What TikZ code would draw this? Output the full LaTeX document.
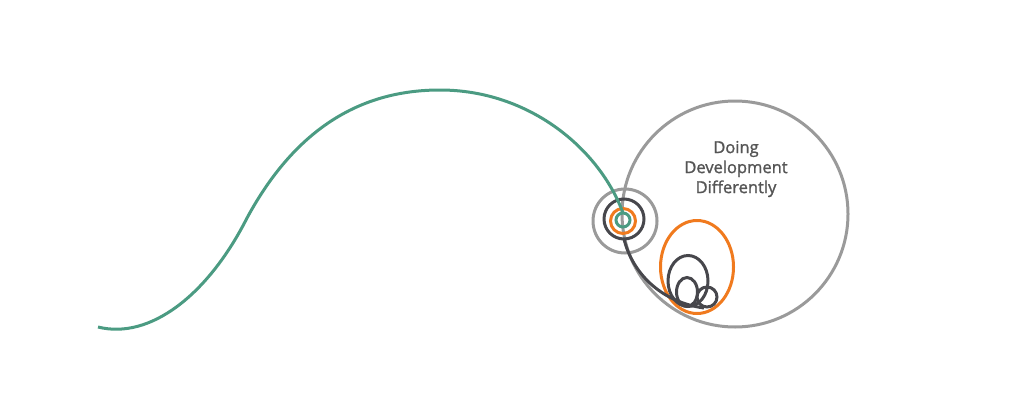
\documentclass[tikz,border=0pt]{standalone}
\usepackage{fontspec}
\setmainfont{Open Sans}
\usepackage{tikz}
\usetikzlibrary{shapes.geometric,positioning}
\definecolor{ddgreen}{HTML}{4B9B82}
\definecolor{ddorange}{HTML}{F07A1E}
\definecolor{ddgray}{HTML}{9A9A9A}
\definecolor{dddark}{HTML}{47474C}
\definecolor{ddtext}{HTML}{555555}
\tikzset{
	loop diagram/.style={
		x=1pt, y=-1pt,
		line width=3pt,
		every node/.style={inner sep=0pt, outer sep=0pt},
		},
	ring/.style={draw=#1, circle},
	oval/.style={draw=#1, ellipse},
	title/.style={align=center, text=ddtext,
		font=\addfontfeature{FakeBold=1.3}\fontsize{16.5}{20}\selectfont}
}

\begin{document}
\begin{tikzpicture}[loop diagram]
  \useasboundingbox (0,0) rectangle (1024,415);
  % big circle and its label
  \node[ring=ddgray, minimum size=226pt] (big) at (735,214) {};
  \node[title] (lbl) at (736,169) {Doing\\Development\\Differently};
  % nested rings at the junction
  \node[ring=ddgray, minimum size=64pt] (jgray) at (625,221) {};
  \node[ring=dddark, minimum size=40pt] (jdark) at (624,219) {};
  \node[ring=ddorange, minimum size=25pt] (jorange) at (623,221) {};
  \node[ring=ddgreen, minimum size=14pt] (jgreen) at (623,220) {};
  % loops inside the big circle
  \node[oval=ddorange, minimum width=73pt, minimum height=93pt] (lorange) at (697,267) {};
  \node[oval=dddark, minimum width=40pt, minimum height=51pt] (lbig) at (688,281) {};
  \node[oval=dddark, minimum width=21pt, minimum height=29pt] (lmid) at (687,292) {};
  \node[ring=dddark, minimum size=20pt] (lsmall) at (707,297) {};
  \coordinate (start) at (98,327);
  \coordinate (lend) at (704,308);
  \draw[ddgreen] (start) .. controls (150,340) and (208,295) .. (247,218)
        .. controls (300,120) and (370,90) .. (440,90)
        .. controls (530,90) and (600,150) .. (jgreen.north);
  \draw[dddark] (jdark.south) .. controls (632,272) and (660,302) .. (lend);
\end{tikzpicture}
\end{document}
